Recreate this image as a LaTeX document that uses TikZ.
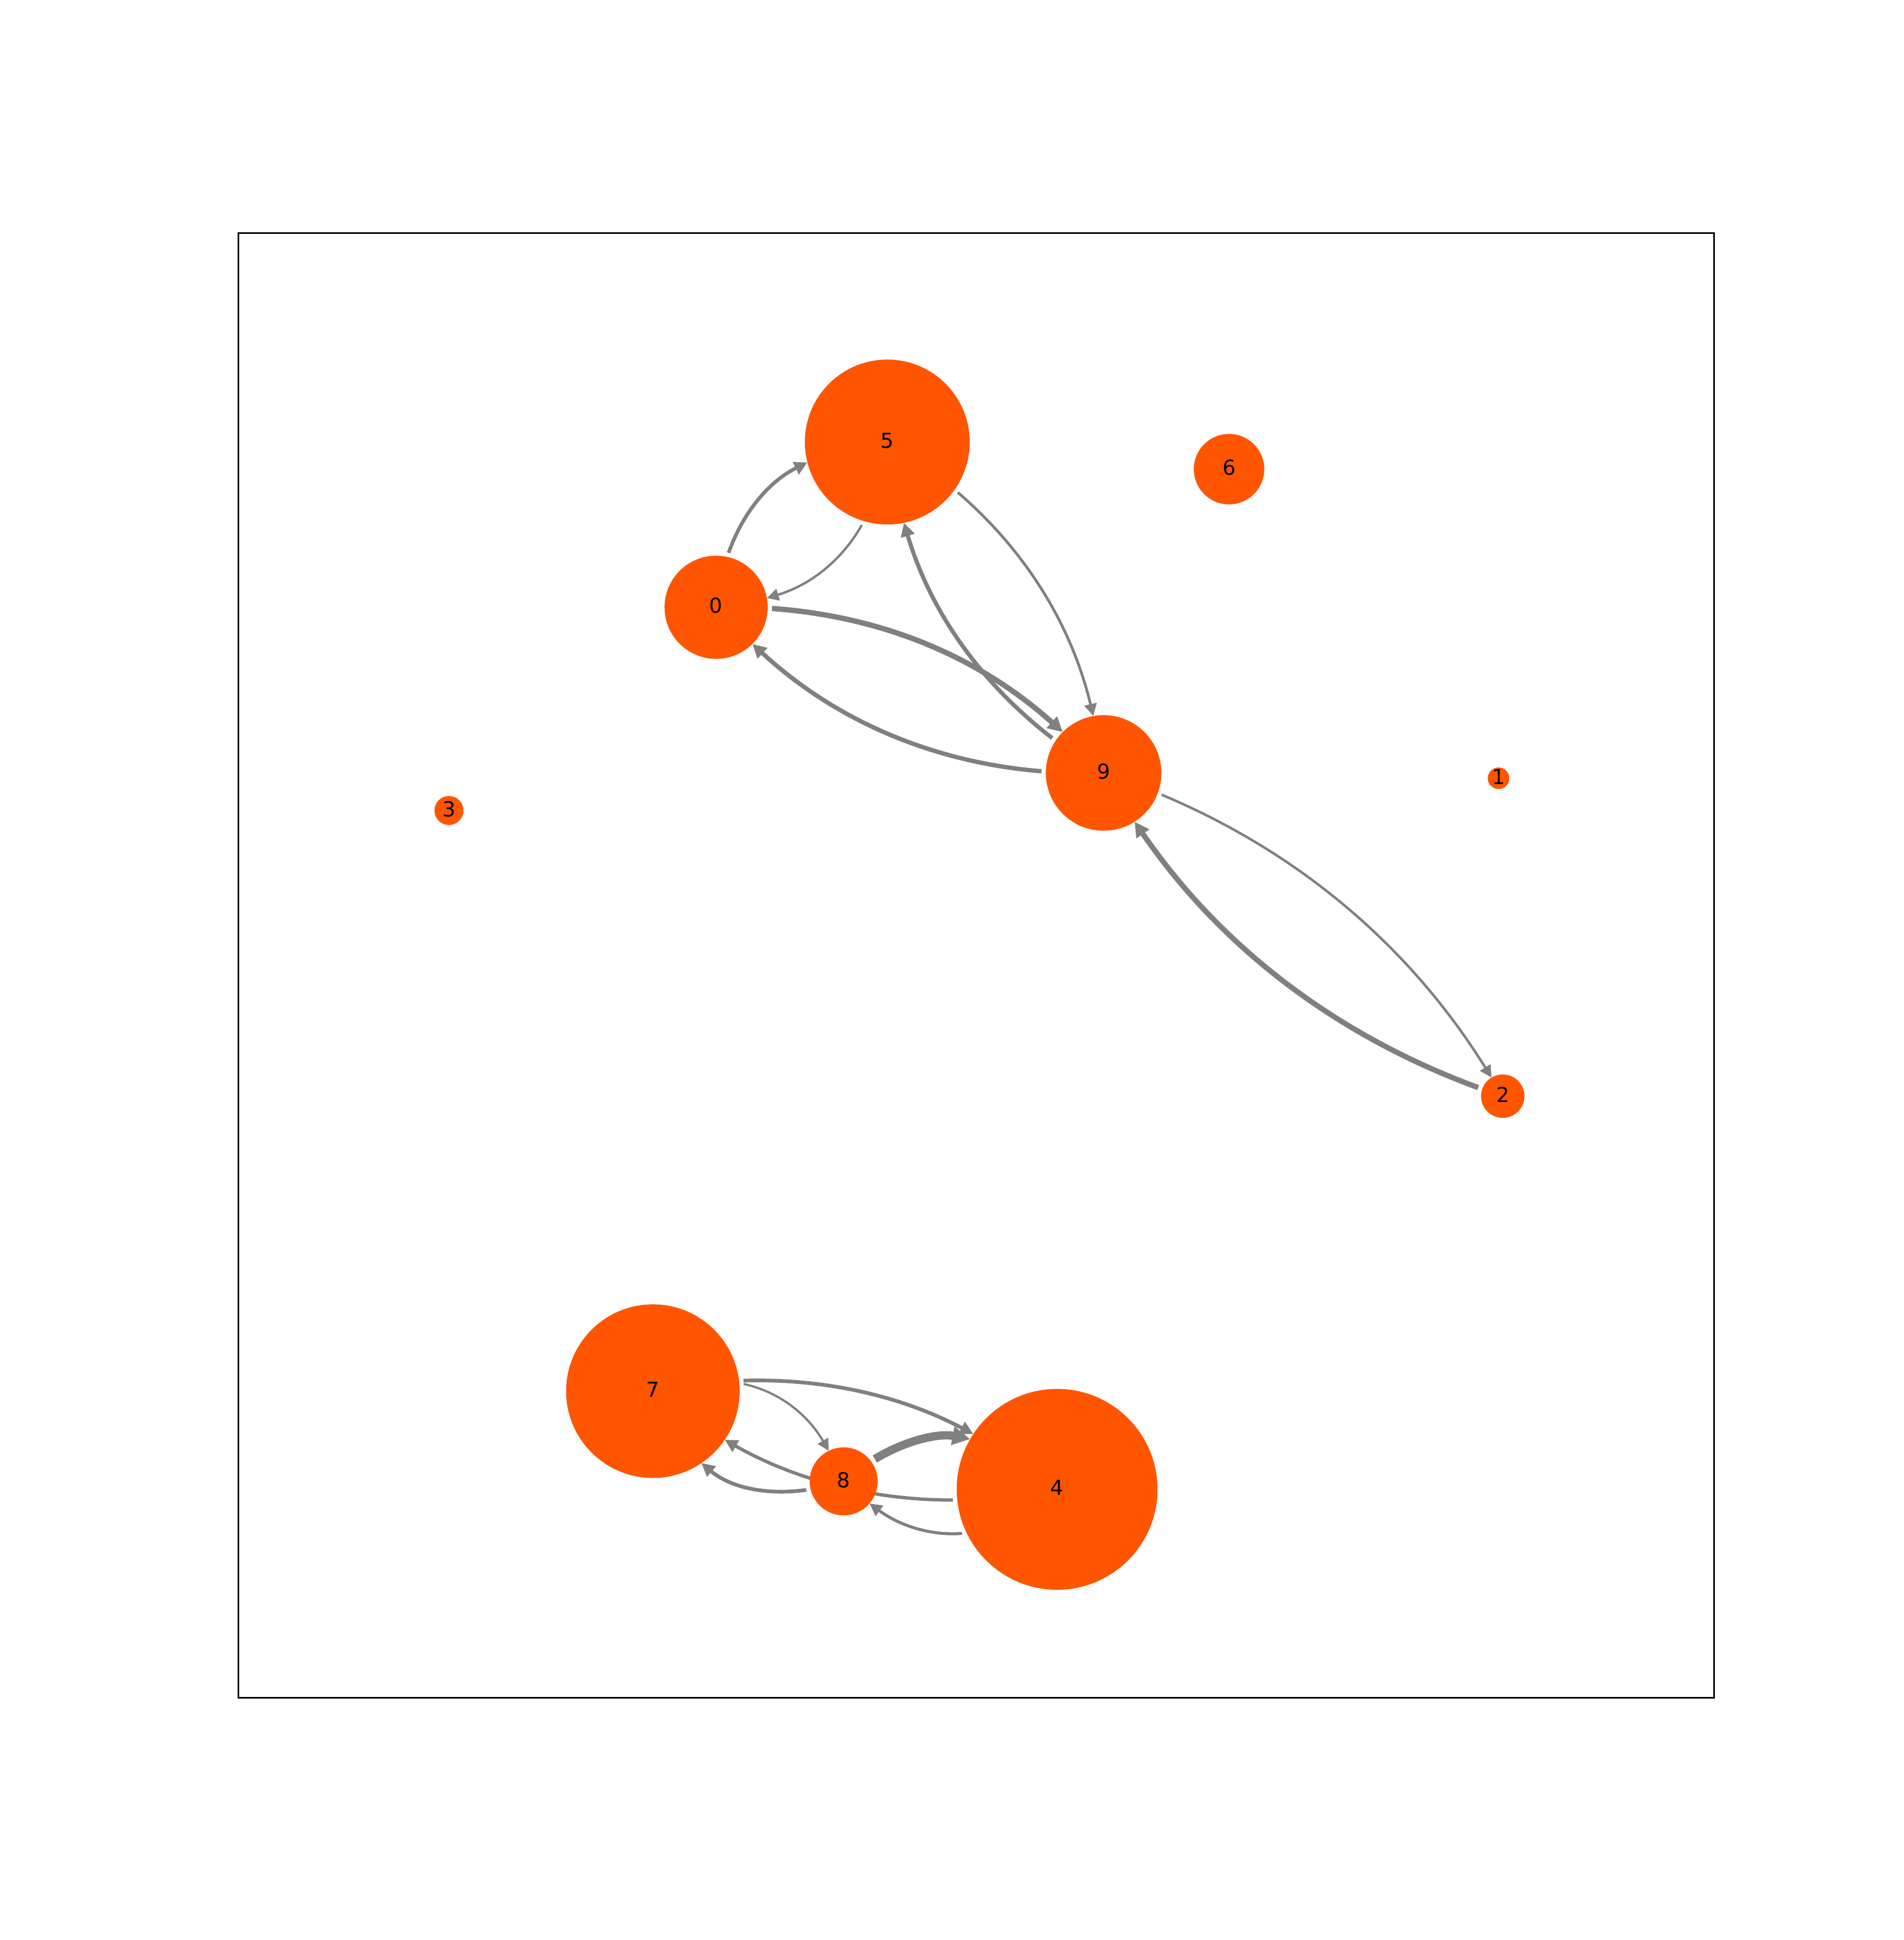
\documentclass[tikz,border=0pt]{standalone}
\usepackage{fontspec}
\setmainfont{DejaVu Sans}
\usetikzlibrary{arrows.meta}
\pgfdeclarelayer{edges}
\pgfsetlayers{edges,main}
\definecolor{nodeorange}{RGB}{255,85,0}
\definecolor{edgegray}{RGB}{128,128,128}
\tikzset{
  gnode/.style={circle, fill=nodeorange, draw=none, inner sep=0pt, outer sep=0pt,
    font=\fontsize{12pt}{14pt}\selectfont, text=black},
  gedge/.style={draw=edgegray, line cap=butt, -{Triangle[length=5.5pt 1, width=5.5pt 1]}},
  axframe/.style={draw=black, line width=0.9pt}
}
\makeatletter
\newcount\gr@it
\newcommand\grH{78}
\newcommand\grGap{3.5}
\newcommand\grNode[4]{%
  \expandafter\def\csname grX#1\endcsname{#2}%
  \expandafter\def\csname grY#1\endcsname{#3}%
  \expandafter\def\csname grR#1\endcsname{#4}%
  \edef\gr@ms{\fpeval{2*#4*0.72}}%
  \node[gnode, minimum size=\gr@ms pt] (n#1) at (#2,#3) {\raisebox{-3.45pt}[0pt][0pt]{#1}};%
}
\def\gr@point#1{%
  \edef\gr@tm{\fpeval{#1}}%
  \edef\gr@px{\fpeval{(1-\gr@tm)^2*(\gr@ax)+2*\gr@tm*(1-\gr@tm)*(\gr@cx)+\gr@tm^2*(\gr@bx)}}%
  \edef\gr@py{\fpeval{(1-\gr@tm)^2*(\gr@ay)+2*\gr@tm*(1-\gr@tm)*(\gr@cy)+\gr@tm^2*(\gr@by)}}%
}
\newcommand\grEdge[3]{%
  \edef\gr@ax{\csname grX#1\endcsname}%
  \edef\gr@ay{\csname grY#1\endcsname}%
  \edef\gr@ra{\csname grR#1\endcsname}%
  \edef\gr@bx{\csname grX#2\endcsname}%
  \edef\gr@by{\csname grY#2\endcsname}%
  \edef\gr@rb{\csname grR#2\endcsname}%
  \edef\gr@len{\fpeval{sqrt((\gr@bx-\gr@ax)^2+(\gr@by-\gr@ay)^2)}}%
  \edef\gr@cx{\fpeval{(\gr@ax+\gr@bx)/2+\grH*(\gr@by-\gr@ay)/\gr@len}}%
  \edef\gr@cy{\fpeval{(\gr@ay+\gr@by)/2-\grH*(\gr@bx-\gr@ax)/\gr@len}}%
  % end parameter (target border)
  \def\gr@lo{0.5}\def\gr@hi{1}\gr@it=0
  \loop
    \gr@point{(\gr@lo+\gr@hi)/2}%
    \ifnum\fpeval{(\gr@px-\gr@bx)^2+(\gr@py-\gr@by)^2>(\gr@rb)^2}=1
      \let\gr@lo\gr@tm\else\let\gr@hi\gr@tm\fi
    \advance\gr@it by 1
  \ifnum\gr@it<40 \repeat
  \let\gr@tb\gr@lo
  % start parameter (source border plus gap)
  \def\gr@lo{0}\def\gr@hi{0.5}\gr@it=0
  \loop
    \gr@point{(\gr@lo+\gr@hi)/2}%
    \ifnum\fpeval{(\gr@px-\gr@ax)^2+(\gr@py-\gr@ay)^2<(\gr@ra+\grGap)^2}=1
      \let\gr@lo\gr@tm\else\let\gr@hi\gr@tm\fi
    \advance\gr@it by 1
  \ifnum\gr@it<40 \repeat
  \let\gr@ta\gr@hi
  \gr@point{\gr@ta}%
  \let\gr@sX\gr@px \let\gr@sY\gr@py
  \gr@point{\gr@tb}%
  \let\gr@eX\gr@px \let\gr@eY\gr@py
  \edef\gr@sx{\fpeval{round(\gr@sX-\gr@ax,3)}}%
  \edef\gr@sy{\fpeval{round(\gr@sY-\gr@ay,3)}}%
  \edef\gr@ex{\fpeval{round(\gr@eX-\gr@bx,3)}}%
  \edef\gr@ey{\fpeval{round(\gr@eY-\gr@by,3)}}%
  % quadratic control of the visible part
  \edef\gr@pcx{\fpeval{(1-\gr@ta)*(1-\gr@tb)*(\gr@ax)+(\gr@ta*(1-\gr@tb)+\gr@tb*(1-\gr@ta))*(\gr@cx)+\gr@ta*\gr@tb*(\gr@bx)}}%
  \edef\gr@pcy{\fpeval{(1-\gr@ta)*(1-\gr@tb)*(\gr@ay)+(\gr@ta*(1-\gr@tb)+\gr@tb*(1-\gr@ta))*(\gr@cy)+\gr@ta*\gr@tb*(\gr@by)}}%
  % cubic controls equivalent to the quadratic
  \edef\gr@kax{\fpeval{round(\gr@sX+2/3*(\gr@pcx-\gr@sX),3)}}%
  \edef\gr@kay{\fpeval{round(\gr@sY+2/3*(\gr@pcy-\gr@sY),3)}}%
  \edef\gr@kbx{\fpeval{round(\gr@eX+2/3*(\gr@pcx-\gr@eX),3)}}%
  \edef\gr@kby{\fpeval{round(\gr@eY+2/3*(\gr@pcy-\gr@eY),3)}}%
  \edef\gr@lw{\fpeval{#3*0.72}}%
  \begin{pgfonlayer}{edges}
    \draw[gedge, line width=\gr@lw pt]
      ([shift={(\gr@sx,\gr@sy)}]n#1.center) .. controls (\gr@kax,\gr@kay) and (\gr@kbx,\gr@kby) ..
      ([shift={(\gr@ex,\gr@ey)}]n#2.center);
  \end{pgfonlayer}
}
\makeatother

\begin{document}
\begin{tikzpicture}[x=0.72pt, y=-0.72pt]
\useasboundingbox (0,0) rectangle (1536,1564.7);
\draw[axframe] (192.2,187.9) rectangle (1382.7,1369.2);

\grNode{0}{577.7}{489.8}{41.6}
\grNode{5}{715.8}{356.5}{66.5}
\grNode{9}{890.3}{623.4}{46.6}
\grNode{6}{991.5}{378.4}{28.4}
\grNode{1}{1208.9}{627.7}{8.7}
\grNode{3}{362.2}{653.7}{11.7}
\grNode{2}{1212.3}{884.1}{17.5}
\grNode{7}{526.7}{1122}{70}
\grNode{8}{680.6}{1194.8}{27.4}
\grNode{4}{852.8}{1201.2}{81}

\grEdge{0}{5}{2.9}
\grEdge{5}{0}{1.9}
\grEdge{0}{9}{4.3}
\grEdge{9}{0}{3.5}
\grEdge{9}{5}{3.3}
\grEdge{5}{9}{2.2}
\grEdge{9}{2}{2.0}
\grEdge{2}{9}{4.3}
\grEdge{7}{4}{3.0}
\grEdge{7}{8}{1.8}
\grEdge{4}{7}{2.7}
\grEdge{8}{7}{3.0}
\grEdge{8}{4}{6.7}
\grEdge{4}{8}{2.4}
\end{tikzpicture}
\end{document}
